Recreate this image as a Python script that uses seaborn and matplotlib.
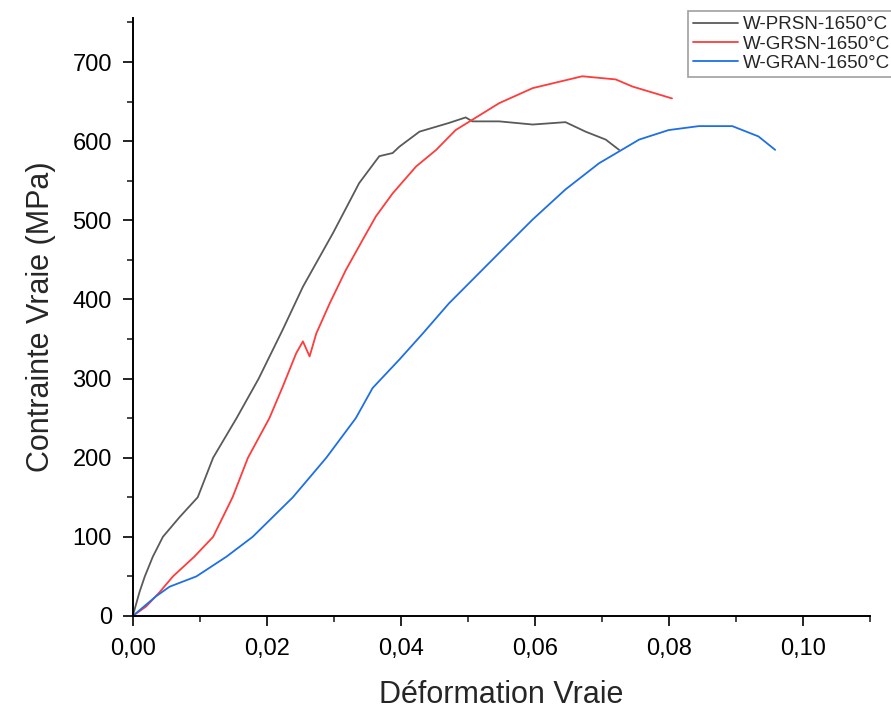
import matplotlib.pyplot as plt
import matplotlib.ticker as mticker
import pandas as pd
import seaborn as sns

# strain / stress curves
prsn_strain = [0.0, 0.001, 0.0018, 0.003, 0.0045, 0.007, 0.0097, 0.012, 0.0155,
               0.0188, 0.0224, 0.0254, 0.0299, 0.0338, 0.0368, 0.0388, 0.0398,
               0.0428, 0.0472, 0.0497, 0.0507, 0.0547, 0.0597, 0.0646, 0.0676,
               0.0706, 0.0726]
prsn_stress = [0, 30, 50, 75, 100, 125, 150, 200, 250,
               300, 362, 416, 484, 547, 581, 585, 593,
               612, 623, 630, 625, 625, 621, 624, 612,
               602, 589]

grsn_strain = [0.0, 0.002, 0.004, 0.006, 0.0092, 0.012, 0.0149, 0.0172, 0.0204,
               0.0224, 0.0244, 0.0254, 0.0264, 0.0274, 0.0294, 0.0318, 0.0343,
               0.0363, 0.0388, 0.0423, 0.0453, 0.0482, 0.0547, 0.0597, 0.0671,
               0.0721, 0.0746, 0.0805]
grsn_stress = [0, 12, 30, 50, 75, 100, 150, 200, 250,
               290, 332, 347, 328, 357, 395, 437, 475,
               505, 534, 568, 589, 614, 648, 667, 682,
               678, 669, 654]

gran_strain = [0.0, 0.0035, 0.0055, 0.0095, 0.014, 0.0179, 0.0239, 0.0289,
               0.0333, 0.0358, 0.0398, 0.0433, 0.0472, 0.0512, 0.0552, 0.0597,
               0.0646, 0.0696, 0.0726, 0.0756, 0.080, 0.0845, 0.0895, 0.0934,
               0.0959]
gran_stress = [0, 25, 37, 50, 75, 100, 150, 200,
               250, 288, 324, 357, 395, 429, 463, 501,
               539, 572, 587, 602, 614, 619, 619, 606,
               589]

labels = ["W-PRSN-1650°C", "W-GRSN-1650°C", "W-GRAN-1650°C"]
colors = ["#5a5a5a", "#ff3b3b", "#1e6fe6"]

frames = []
for name, xs, ys in zip(labels,
                        [prsn_strain, grsn_strain, gran_strain],
                        [prsn_stress, grsn_stress, gran_stress]):
    frames.append(pd.DataFrame({"strain": xs, "stress": ys, "sample": name}))
df = pd.concat(frames, ignore_index=True)

sns.set_style("ticks")
plt.rcParams["font.family"] = ["Liberation Sans", "DejaVu Sans"]

fig = plt.figure(figsize=(8.91, 7.08), dpi=100)
ax = fig.add_axes([0.149, 0.130, 0.827, 0.845])

sns.lineplot(data=df, x="strain", y="stress", hue="sample", palette=colors,
             sort=False, estimator=None, linewidth=1.3, ax=ax, legend=False)

ax.set_xlim(0, 0.11)
ax.set_ylim(0, 756)
ax.xaxis.set_major_locator(mticker.MultipleLocator(0.02))
ax.xaxis.set_minor_locator(mticker.MultipleLocator(0.01))
ax.yaxis.set_major_locator(mticker.MultipleLocator(100))
ax.yaxis.set_minor_locator(mticker.MultipleLocator(50))
ax.xaxis.set_major_formatter(
    mticker.FuncFormatter(lambda v, p: f"{v:.2f}".replace(".", ",")))
ax.tick_params(which="major", length=7, width=1.2, labelsize=17, colors="black")
ax.tick_params(which="minor", length=4, width=1.2)
ax.tick_params(axis="x", which="major", pad=9)
ax.tick_params(axis="y", which="major", pad=8)
for s in ["left", "bottom"]:
    ax.spines[s].set_linewidth(1.4)
    ax.spines[s].set_color("black")
sns.despine(ax=ax)

ax.set_xlabel("Déformation Vraie", fontsize=22, labelpad=14)
ax.set_ylabel("Contrainte Vraie (MPa)", fontsize=22, labelpad=12)

handles = [plt.Line2D([], [], color=c, lw=1.3) for c in colors]
leg = fig.legend(handles, labels, loc="upper left",
                 bbox_to_anchor=(0.772, 0.984), bbox_transform=fig.transFigure,
                 fontsize=13.5, frameon=True, fancybox=False, handlelength=2.4,
                 borderpad=0.25, labelspacing=0.12, handletextpad=0.3,
                 borderaxespad=0)
leg.get_frame().set_edgecolor("#888888")
leg.get_frame().set_linewidth(1.2)

fig.savefig("out.png", dpi=100)
